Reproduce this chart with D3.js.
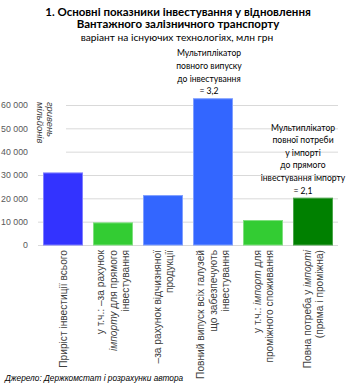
<!DOCTYPE html>
<html>
<head>
<meta charset="utf-8">
<script src="https://cdn.jsdelivr.net/npm/d3@7"></script>
<style>
  body { margin: 0; background: #fff; }
  svg text { fill: #404040; }
</style>
</head>
<body>
<svg id="chart" width="354" height="388"></svg>
<script>
// data
let categories = ["c1", "c2", "c3", "c4", "c5", "c6"];
let values = [31100, 9700, 21400, 62900, 10700, 20300];
let barColors = ["#3333ff", "#33cc33", "#3366ff", "#3366ff", "#33cc33", "#008000"];
let barStrokes = ["#7f7fff", "#7fe07f", "#7f9fff", "#7f9fff", "#7fe07f", "#4ca64c"];
// *...* marks italic words
let xLabels = [
    ["Приріст інвестиції всього"],
    ["у т.ч.: –за рахунок", "*імпорту* для прямого", "інвестування"],
    ["–за рахунок відчизняної", "продукції"],
    ["Повний випуск всіх галузей", "що забезпечують", "інвестування"],
    ["у т.ч.: *імпорт* для", "проміжного споживання"],
    ["Повна потреба у *імпорті*", "(пряма і проміжна)"]
];
let yTicks = [0, 10000, 20000, 30000, 40000, 50000, 60000];
let titleLines = ["1. Основні показники інвестування у відновлення", "Вантажного залізничного транспорту"];
let subtitle = "варіант на існуючих технологіях, млн грн";
let yTitle = ["мільйонів", "гривень"];
let notes = [
    {cat: "c4", dx: -4, lines: ["Мультиплікатор", "повного випуску", "до інвестування", "= 3,2"]},
    {cat: "c6", dx: -10, lines: ["Мультиплікатор", "повної потреби", "у імпорті", "до прямого", "інвестування імпорту", "= 2,1"]}
];
let source = "Джерело: Держкомстат і розрахунки автора";

const svg = d3.select('#chart');
const plotLeft = 38, plotRight = 338, plotTop = 105, plotBottom = 245;

let x = d3.scaleBand().domain(categories).range([plotLeft, plotRight]).paddingInner(0.2).paddingOuter(0.1);
let y = d3.scaleLinear().domain([0, 60000]).range([plotBottom, plotTop]);

// title
const titleFont = "Lato, 'Open Sans', sans-serif";
svg.selectAll('text.title').data(titleLines).enter().append('text')
    .attr('class', 'title')
    .attr('x', 178).attr('y', (d, i) => 16 + i * 12)
    .attr('text-anchor', 'middle')
    .style('font-family', titleFont).style('font-weight', 'bold').style('font-size', '11.5px')
    .style('fill', '#000')
    .text(d => d);
svg.append('text')
    .attr('x', 177).attr('y', 41)
    .attr('text-anchor', 'middle')
    .style('font-family', titleFont).style('font-size', '10.2px')
    .style('fill', '#000')
    .text(subtitle);

// grid
svg.append('g').selectAll('line').data(yTicks).enter().append('line')
    .attr('x1', plotLeft).attr('x2', plotRight)
    .attr('y1', d => y(d) + 0.5).attr('y2', d => y(d) + 0.5)
    .attr('stroke', '#d9d9d9').attr('stroke-width', 1);

// y axis labels
let yAxis = d3.axisLeft(y).tickValues(yTicks).tickSize(0).tickPadding(0)
    .tickFormat(d => d3.format(',')(d).replace(/,/g, ' '));
let ag = svg.append('g').attr('transform', 'translate(28,0)').call(yAxis);
ag.select('.domain').remove();
ag.selectAll('text')
    .style('font-family', "'Liberation Sans', Arial, sans-serif").style('font-size', '8.8px')
    .style('fill', '#595959');

// y title box covers the upper grid lines
svg.append('rect').attr('x', plotLeft).attr('y', 98).attr('width', 28).attr('height', 58).attr('fill', '#fff');
svg.selectAll('text.ytitle').data(yTitle).enter().append('text')
    .attr('class', 'ytitle')
    .attr('transform', (d, i) => `translate(${37 + i * 10},102) rotate(90)`)
    .style('font-family', "'Liberation Sans', Arial, sans-serif").style('font-size', '9.4px')
    .style('font-style', 'italic').style('fill', '#404040')
    .text(d => d);

// bars
svg.append('g').selectAll('rect').data(values).enter().append('rect')
    .attr('x', (d, i) => x(categories[i]) + 0.5)
    .attr('y', d => y(d) + 0.5)
    .attr('width', x.bandwidth() - 1)
    .attr('height', d => plotBottom - y(d) - 0.5)
    .attr('fill', (d, i) => barColors[i])
    .attr('stroke', (d, i) => barStrokes[i])
    .attr('stroke-width', 1);

// x labels, rotated, anchored at the top
const lineGap = 12.5;
xLabels.forEach((lines, i) => {
    let cx = x(categories[i]) + x.bandwidth() / 2;
    lines.forEach((line, j) => {
        let lx = cx + (j - (lines.length - 1) / 2) * lineGap + 3.8;
        let t = svg.append('text')
            .attr('transform', `translate(${lx},250) rotate(-90)`)
            .attr('text-anchor', 'end')
            .style('font-family', "'Liberation Sans', Arial, sans-serif").style('font-size', '10.2px')
            .style('fill', '#404040');
        line.split('*').forEach((part, k) => {
            if (part === '') return;
            t.append('tspan').style('font-style', k % 2 ? 'italic' : 'normal').text(part);
        });
    });
});

// annotations above bars
notes.forEach(n => {
    let i = categories.indexOf(n.cat);
    let cx = x(n.cat) + x.bandwidth() / 2 + n.dx;
    let base = y(values[i]) - 4;
    n.lines.forEach((line, j) => {
        svg.append('text')
            .attr('x', cx).attr('y', base - (n.lines.length - 1 - j) * 12.6)
            .attr('text-anchor', 'middle')
            .style('font-family', titleFont).style('font-size', '8.6px')
            .style('fill', '#000')
            .text(line);
    });
});

// source
svg.append('text')
    .attr('x', 5).attr('y', 381)
    .style('font-family', "'Liberation Sans', Arial, sans-serif").style('font-size', '8.3px')
    .style('font-style', 'italic').style('fill', '#000')
    .text(source);
</script>
</body>
</html>
